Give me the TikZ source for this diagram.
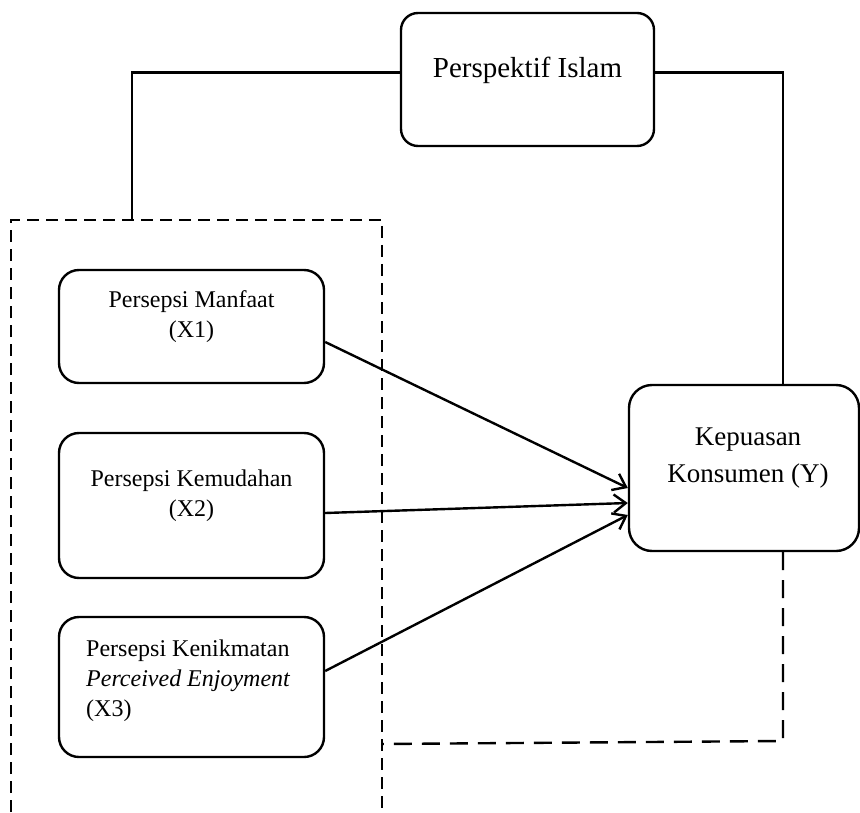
\documentclass[tikz,border=0pt]{standalone}
\usepackage{fontspec}
\setmainfont{Liberation Serif}
\usetikzlibrary{positioning,arrows.meta}

\begin{document}
\begin{tikzpicture}[x=0.5pt,y=-0.5pt,
	box/.style={draw,line width=1.2pt,rounded corners=10pt,inner sep=0pt},
	lbl/.style={inner sep=0pt,align=center,font=\fontsize{12}{15}\selectfont},
	link/.style={line width=1.2pt},
	grp/.style={line width=1.2pt,dash pattern=on 6pt off 3.5pt},
	back/.style={line width=1.2pt,dash pattern=on 9pt off 5pt},
	arr/.style={line width=1.2pt,-{Straight Barb[length=6pt,width=9pt]}}]
	\useasboundingbox (0,0) rectangle (860,812);
	% boxes
	\node[box,rounded corners=8.5pt,minimum width=126.5pt,minimum height=66.5pt] (islam) at (527.5,79.5) {};
	\node[box,minimum width=132.5pt,minimum height=56.5pt] (x1) at (191.5,326.5) {};
	\node[box,minimum width=132.5pt,minimum height=72.5pt] (x2) at (191.5,505.5) {};
	\node[box,minimum width=132.5pt,minimum height=70pt] (x3) at (191.5,687) {};
	\node[box,rounded corners=11.5pt,minimum width=115pt,minimum height=83pt] (kep) at (744,468) {};
	% texts
	\node[lbl,font=\fontsize{14.5}{17}\selectfont,below=22.6pt of islam.north] (islamtxt) {Perspektif Islam};
	\node[lbl,below=10.8pt of x1.north] (x1txt) {Persepsi Manfaat\\(X1)};
	\node[lbl,below=18.8pt of x2.north] (x2txt) {Persepsi Kemudahan\\(X2)};
	\node[lbl,align=left,below right=11.8pt and 14pt of x3.north west] (x3txt) {Persepsi Kenikmatan\\\textit{Perceived Enjoyment}\\(X3)};
	\node[lbl,font=\fontsize{13.5}{18.5}\selectfont,below=22pt of kep.north,xshift=2pt] (keptxt) {Kepuasan\\Konsumen (Y)};
	% dashed group
	\coordinate (gbl) at (11,812);
	\coordinate (gtl) at (11,220);
	\coordinate (gtop) at (132,220);
	\coordinate (gtr) at (382,220);
	\coordinate (gbr) at (382,812);
	\draw[grp] (gbl) -- (gtl) -- (gtr) -- (gbr);
	% links to Perspektif Islam
	\draw[link] ([yshift=3.5pt]islam.west) -| (gtop);
	\draw[link] ([yshift=3.5pt]islam.east) -| ([xshift=19.5pt]kep.north);
	% feedback line
	\coordinate (fbr) at (783,741);
	\coordinate (fbl) at (382,744);
	\draw[back] ([xshift=19.5pt]kep.south) -- (fbr) -- (fbl);
	% arrows
	\draw[arr] ([yshift=-7.75pt]x1.east) -- ([yshift=-10pt]kep.west);
	\draw[arr] ([yshift=-3.75pt]x2.east) -- ([yshift=-17.5pt]kep.west);
	\draw[arr] ([yshift=8pt]x3.east) -- ([yshift=-23.5pt]kep.west);
\end{tikzpicture}
\end{document}
